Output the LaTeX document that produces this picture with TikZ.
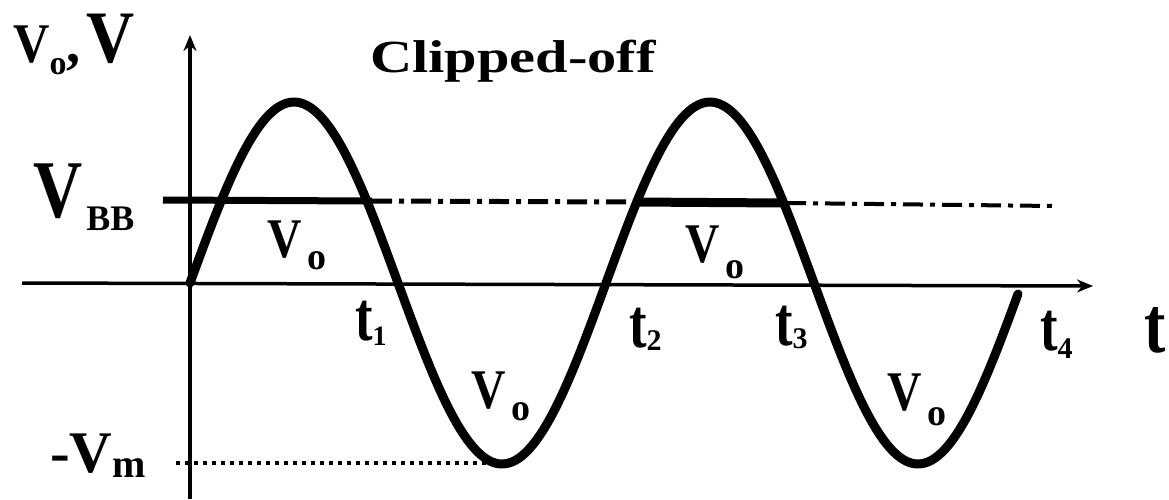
\documentclass[tikz,border=0pt]{standalone}
\usepackage{fontspec}
\usepackage{graphicx}
\setmainfont{Liberation Serif}
\usetikzlibrary{arrows.meta}
\newcommand{\sz}[1]{\fontsize{#1}{#1}\selectfont}
\newcommand{\lowsub}[3]{\raisebox{-#1pt}{\sz{#2}#3}}
\begin{document}
\begin{tikzpicture}[x=1pt,y=-1pt,
  lbl/.style={inner sep=0pt, anchor=base west, font=\bfseries},
  axisline/.style={line width=3.5pt, -{Stealth[length=16pt,width=13pt]}},
  wave/.style={line width=9pt, line join=round, line cap=round},
  clipline/.style={line width=7pt},
  dashdotline/.style={line width=5pt, dash pattern=on 20pt off 7pt on 5pt off 7pt},
  dotline/.style={line width=4.5pt, dash pattern=on 4pt off 5pt}
]
\useasboundingbox (0,0) rectangle (1169,499);
% axes
\coordinate (yb) at (190,499);
\coordinate (yt) at (190,35);
\coordinate (xl) at (22,283);
\coordinate (xr) at (1093,286);
\draw[axisline] (yb) -- (yt);
\draw[axisline] (xl) -- (xr);
% V_BB line
\coordinate (b0) at (163,200);
\coordinate (b1) at (372,201);
\coordinate (b2) at (634,202);
\coordinate (b3) at (786,203);
\coordinate (b4) at (1055,206);
\draw[clipline] (b0) -- (b1);
\draw[dashdotline] (b1) -- (b2);
\draw[line width=9pt] (b2) -- (b3);
\draw[dashdotline, line width=4pt] (b3) -- (b4);
% -V_m dotted line
\coordinate (m0) at (176,463);
\coordinate (m1) at (495,463);
\draw[dotline] (m0) -- (m1);
% waveform
\draw[wave] plot[domain=190:1018, samples=240] (\x, {283-181*sin((\x-190)*0.865385)});
% labels
\node[lbl] (vaxis) at (13,62) {\scalebox{0.9}[1]{\sz{56}V}\lowsub{12}{34}{o}\sz{56},\hspace{6pt}\scalebox{0.9}[1]{\sz{74}V}};
\node[lbl] (clipoff) at (370,72) {\scalebox{1.27}[1]{\sz{46}Clipped-off}};
\node[lbl] (vbb) at (33,217) {\scalebox{0.83}[1]{\sz{82}V}\hspace{4pt}\lowsub{13}{36}{BB}};
\node[lbl] (vo1) at (267,257) {\scalebox{0.85}[1]{\sz{56}V}\hspace{6pt}\lowsub{12}{38}{o}};
\node[lbl] (vo2) at (471,408) {\scalebox{0.85}[1]{\sz{56}V}\hspace{6pt}\lowsub{12}{38}{o}};
\node[lbl] (vo3) at (685,262) {\scalebox{0.85}[1]{\sz{56}V}\hspace{6pt}\lowsub{16}{38}{o}};
\node[lbl] (vo4) at (887,410) {\scalebox{0.85}[1]{\sz{56}V}\hspace{6pt}\lowsub{15}{38}{o}};
\node[lbl] (t1) at (355,340) {\scalebox{0.75}[1]{\sz{70}t}\lowsub{5}{28}{1}};
\node[lbl] (t2) at (629,347) {\scalebox{0.75}[1]{\sz{70}t}\lowsub{3}{30}{2}};
\node[lbl] (t3) at (775,345) {\scalebox{0.75}[1]{\sz{70}t}\lowsub{3}{30}{3}};
\node[lbl] (t4) at (1040,350) {\scalebox{0.75}[1]{\sz{70}t}\lowsub{8}{30}{4}};
\node[lbl] (tax) at (1144,352) {\scalebox{0.8}[1]{\sz{80}t}};
\node[lbl] (vm) at (50,472) {\sz{59}-V\lowsub{5}{40}{m}};
\end{tikzpicture}
\end{document}
